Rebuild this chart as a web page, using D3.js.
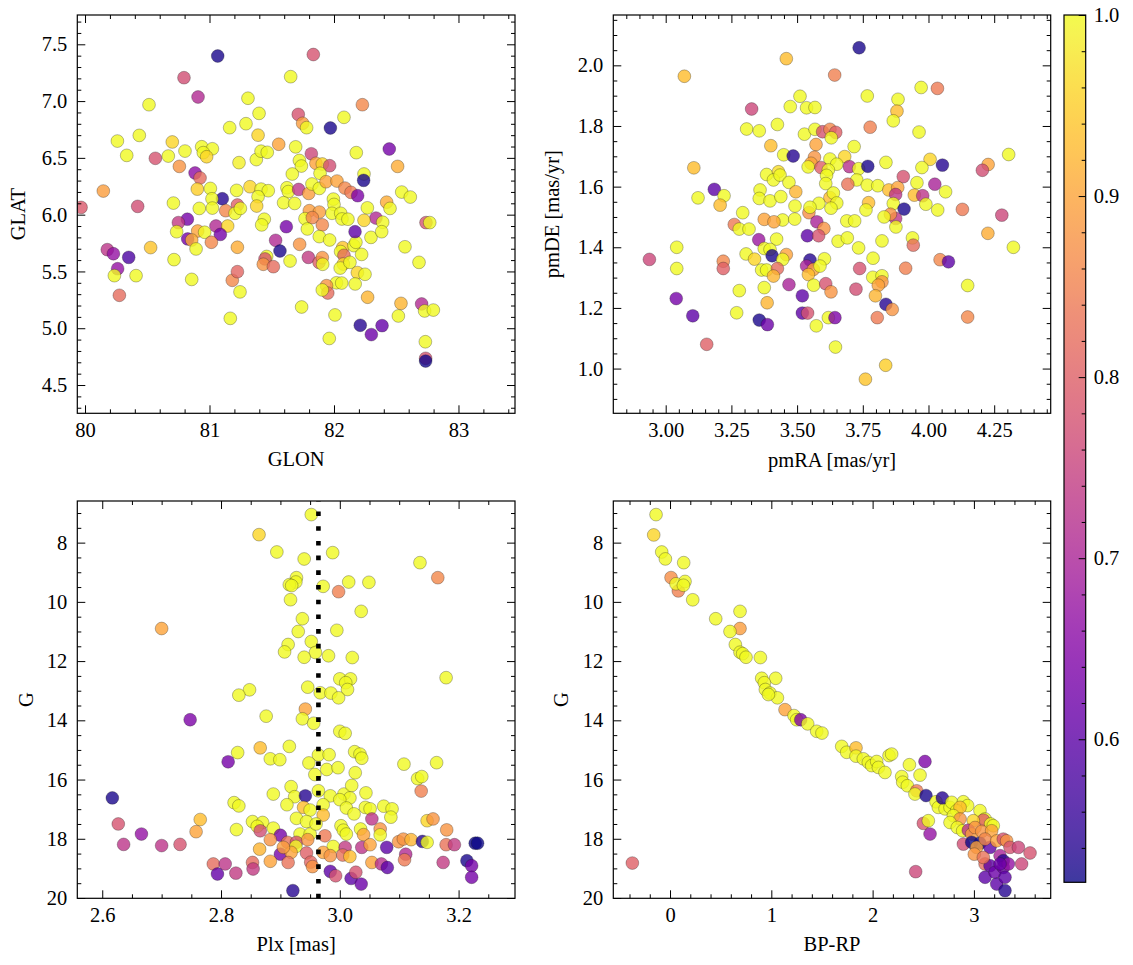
<!DOCTYPE html>
<html><head><meta charset="utf-8">
<script src="https://cdn.jsdelivr.net/npm/d3@7"></script>
<style>body{margin:0;background:#fff}svg{display:block}</style>
</head><body><svg id="c" width="1133" height="965"></svg>
<script>
// ---------------- DATA ----------------
// Panel 1: GLON vs GLAT
const GLON = [81.066,81.834,80.795,81.652,80.908,80.514,81.309,81.398,82.228,81.713,81.748,81.780,81.971,82.080,81.162,81.293,81.39,80.26,80.436,80.335,80.565,80.669,80.701,80.803,80.937,81.023,80.95,80.977,80.758,81.237,81.376,81.414,81.464,81.556,81.692,81.722,81.738,81.818,81.855,81.906,81.965,82.179,82.444,82.511,81.665,81.888,82.241,82.238,80.884,80.924,80.147,80.423,79.968,80.902,81.007,81.103,81.02,80.918,81.023,80.71,81.218,81.325,81.414,81.472,81.39,81.379,81.224,81.13,81.205,81.248,81.622,81.633,81.716,81.797,81.595,81.684,81.823,81.882,81.936,82.024,82.088,82.137,82.19,81.995,82.0,81.984,82.054,82.064,82.112,82.268,82.423,82.45,82.544,82.613,82.337,82.241,82.391,82.739,82.769,81.802,81.882,81.767,81.826,81.906,80.822,80.75,81.052,81.617,81.44,81.419,81.146,
80.736,80.905,80.961,81.087,80.825,80.857,80.892,81.015,81.224,80.179,80.228,80.351,80.262,80.236,80.41,80.527,80.715,80.857,80.276,81.183,81.224,81.245,81.167,81.531,81.566,81.459,81.446,81.432,81.513,81.647,81.724,81.794,81.88,81.906,81.909,81.786,81.882,81.965,82.07,82.053,82.08,82.075,82.05,82.128,82.16,82.176,82.169,82.222,82.188,82.249,82.297,82.383,82.02,82.062,82.17,81.94,81.95,81.906,82.27,81.74,82.008,82.211,82.386,82.3,81.962,82.538,82.517,82.57,82.683,82.704,82.728,82.798,82.734,82.736,82.736];
const GLAT = [7.397,7.41,7.206,7.215,7.036,6.968,7.025,6.892,6.968,6.883,6.804,6.766,6.763,6.857,6.766,6.801,6.70,6.648,6.698,6.522,6.496,6.516,6.64,6.56,6.598,6.58,6.546,6.51,6.425,6.458,6.485,6.559,6.549,6.62,6.597,6.477,6.428,6.536,6.452,6.446,6.431,6.546,6.578,6.425,6.358,6.364,6.358,6.302,6.367,6.323,6.208,6.073,6.064,6.225,6.231,6.14,6.14,6.055,6.058,6.102,6.214,6.246,6.225,6.211,6.158,6.076,6.085,6.035,6.012,6.055,6.237,6.203,6.222,6.187,6.105,6.099,6.27,6.231,6.29,6.296,6.234,6.196,6.167,6.137,6.09,6.012,6.012,5.962,5.96,6.06,6.11,6.055,6.199,6.155,5.97,5.95,5.933,5.93,5.93,6.035,6.023,5.965,5.974,5.91,5.96,5.93,5.90,5.894,5.96,5.91,5.90,
5.85,5.856,5.845,5.826,5.786,5.777,5.698,5.757,5.713,5.692,5.656,5.624,5.524,5.463,5.463,5.71,5.604,5.43,5.29,5.422,5.498,5.32,5.087,5.774,5.68,5.632,5.61,5.563,5.542,5.592,5.739,5.624,5.58,5.622,5.563,5.874,5.807,5.777,5.71,5.675,5.642,5.565,5.53,5.58,5.727,5.757,5.85,5.65,5.49,5.475,5.80,5.85,5.40,5.398,5.39,5.375,5.31,5.337,5.273,5.187,5.117,5.026,5.023,4.944,4.91,5.219,5.108,5.717,5.58,5.214,5.152,5.16,4.881,4.735,4.711];
const PROB_POS = [0.53,0.78,0.77,1.0,0.71,1.0,1.0,1.0,0.86,0.78,0.89,1.0,0.53,1.0,1.0,1.0,0.96,1.0,1.0,1.0,0.78,1.0,0.96,1.0,1.0,1.0,1.0,0.96,0.88,0.99,1.0,1.0,1.0,0.9,1.0,1.0,1.0,0.76,0.9,0.96,0.77,1.0,0.63,0.91,1.0,1.0,1.0,0.53,0.66,0.82,0.89,0.77,0.79,0.95,1.0,0.54,1.0,1.0,1.0,1.0,1.0,0.96,1.0,1.0,1.0,0.96,0.8,0.86,1.0,1.0,1.0,1.0,0.73,0.89,1.0,1.0,1.0,1.0,0.9,0.9,0.86,0.84,0.64,1.0,1.0,1.0,1.0,1.0,1.0,1.0,0.91,1.0,1.0,1.0,0.71,0.96,1.0,0.78,1.0,0.89,0.89,1.0,0.86,0.86,0.63,0.74,0.71,0.63,1.0,1.0,0.96,
1.0,0.9,1.0,0.63,0.63,0.91,1.0,0.86,0.91,0.73,0.67,0.58,0.67,1.0,1.0,0.94,1.0,1.0,0.82,0.86,0.81,1.0,1.0,0.71,0.53,1.0,0.78,0.88,0.82,1.0,0.88,0.74,0.8,0.88,1.0,1.0,1.0,1.0,0.94,1.0,0.82,0.96,1.0,1.0,1.0,1.0,0.6,1.0,0.96,1.0,1.0,1.0,1.0,1.0,1.0,0.88,0.82,1.0,0.92,1.0,1.0,0.54,0.61,0.62,1.0,0.92,1.0,1.0,1.0,0.71,1.0,1.0,1.0,0.78,0.525];

// Panel 2: pmRA vs pmDE
const PMRA = [3.736,3.459,3.071,3.643,3.972,4.034,3.767,3.884,3.88,3.866,3.511,3.474,3.536,3.568,3.327,3.308,3.356,3.425,3.778,3.964,3.528,3.568,3.597,3.625,3.647,3.63,3.572,3.40,3.717,3.449,3.485,3.566,3.553,3.625,3.681,3.651,3.542,3.591,3.619,3.699,3.734,3.769,3.838,4.006,3.975,4.053,4.227,4.205,4.305,3.107,3.384,3.429,3.41,3.435,3.469,3.612,3.609,3.727,3.693,3.767,3.807,3.904,3.956,4.024,4.065,4.129,4.279,3.185,
3.222,3.123,3.207,3.293,3.359,3.356,3.397,3.438,3.495,3.492,3.545,3.583,3.625,3.638,3.651,3.629,3.549,3.445,3.491,3.375,3.412,3.575,
3.261,3.689,3.719,3.772,3.762,3.849,3.883,3.875,3.866,3.907,3.875,3.855,3.831,3.946,3.978,3.99,4.035,
3.28,3.317,3.602,3.876,4.226,3.939,3.942,4.323,3.354,3.422,3.539,3.582,3.656,3.691,3.734,3.823,3.789,3.042,3.042,2.938,3.219,3.219,3.306,3.338,3.375,3.397,3.405,3.459,3.445,3.365,3.384,3.425,3.41,3.549,3.536,3.562,3.543,3.604,3.587,3.563,3.609,3.629,3.469,3.52,3.375,3.28,3.386,3.27,3.04,3.103,3.156,3.356,3.387,3.52,3.54,3.619,3.644,3.573,3.646,3.724,3.738,3.788,3.823,3.823,3.809,3.798,3.838,3.862,3.805,3.913,4.044,4.076,4.149,4.149,3.837,3.76];
const PMDE = [2.058,2.022,1.964,1.968,1.927,1.924,1.899,1.888,1.849,1.817,1.898,1.864,1.86,1.861,1.856,1.79,1.784,1.805,1.796,1.78,1.773,1.789,1.781,1.789,1.779,1.761,1.739,1.735,1.732,1.705,1.701,1.697,1.677,1.691,1.699,1.674,1.665,1.663,1.655,1.666,1.659,1.667,1.68,1.69,1.663,1.671,1.673,1.654,1.706,1.662,1.64,1.649,1.622,1.638,1.614,1.637,1.61,1.622,1.608,1.605,1.603,1.633,1.613,1.608,1.583,1.525,1.506,1.591,
1.57,1.563,1.539,1.514,1.589,1.561,1.553,1.567,1.583,1.536,1.514,1.545,1.564,1.579,1.546,1.529,1.532,1.49,1.493,1.492,1.484,1.484,
1.475,1.487,1.487,1.547,1.523,1.589,1.597,1.574,1.544,1.526,1.495,1.509,1.5,1.572,1.57,1.542,1.523,
1.46,1.46,1.462,1.467,1.446,1.431,1.407,1.4,1.425,1.427,1.438,1.438,1.42,1.431,1.398,1.421,1.364,1.4,1.33,1.36,1.354,1.33,1.378,1.361,1.396,1.393,1.372,1.376,1.36,1.325,1.325,1.33,1.305,1.358,1.338,1.327,1.31,1.362,1.338,1.275,1.28,1.253,1.277,1.24,1.267,1.257,1.217,1.184,1.231,1.174,1.08,1.16,1.145,1.183,1.183,1.168,1.168,1.141,1.071,1.262,1.33,1.301,1.306,1.286,1.275,1.24,1.212,1.195,1.168,1.331,1.359,1.352,1.274,1.17,1.011,0.965];
const PROB_PM = [0.53,0.93,0.93,0.85,1.0,0.84,1.0,1.0,0.93,1.0,1.0,1.0,1.0,1.0,0.76,1.0,1.0,1.0,0.85,1.0,1.0,1.0,0.78,0.86,0.8,1.0,0.9,0.93,1.0,1.0,0.54,0.88,0.9,1.0,0.96,1.0,1.0,0.8,1.0,0.72,1.0,0.53,1.0,0.96,1.0,0.54,0.9,0.77,1.0,0.93,1.0,0.97,1.0,1.0,1.0,1.0,1.0,1.0,0.83,1.0,1.0,0.78,1.0,0.7,1.0,0.84,0.76,0.6,
1.0,1.0,0.93,1.0,1.0,1.0,1.0,1.0,0.92,1.0,0.87,1.0,0.93,1.0,1.0,1.0,1.0,1.0,1.0,0.9,0.9,0.7,
0.84,1.0,1.0,0.93,1.0,0.93,0.9,0.73,1.0,0.53,0.73,0.88,1.0,0.93,0.73,1.0,1.0,
1.0,1.0,0.88,1.0,0.91,1.0,0.82,1.0,0.68,1.0,0.6,0.78,1.0,1.0,1.0,1.0,1.0,1.0,1.0,0.76,0.86,0.8,1.0,0.96,1.0,1.0,0.53,0.9,1.0,1.0,1.0,0.82,0.92,0.54,0.7,0.9,0.93,1.0,1.0,1.0,0.78,0.88,0.7,0.6,1.0,1.0,0.92,1.0,0.63,0.6,0.8,0.53,0.62,0.6,0.78,1.0,0.64,1.0,1.0,0.77,0.78,1.0,1.0,0.88,0.9,0.92,0.54,0.88,0.84,0.85,0.86,0.6,1.0,0.86,0.95,0.94];

// Panel 3: Plx vs G
const PLX = [2.952,2.864,2.894,2.94,2.988,3.135,3.165,2.927,2.926,2.915,2.919,2.972,3.015,3.049,2.998,2.917,3.036,2.937,2.7,2.93,2.995,2.913,2.907,2.952,2.959,2.94,2.981,3.021,3.179,3.0,3.018,3.01,3.013,2.946,2.967,2.985,2.998,2.848,2.83,
2.942,2.937,2.956,2.876,2.748,3.0,3.009,2.915,2.866,2.828,2.883,2.899,2.812,2.964,2.982,2.948,2.958,2.978,2.997,3.025,3.034,3.037,3.026,3.108,3.163,3.131,3.138,3.137,2.617,2.888,2.918,2.924,2.911,2.942,2.964,2.984,3.007,3.02,3.044,3.017,3.0,2.822,2.83,2.939,2.95,2.972,3.011,3.024,3.043,3.051,3.074,3.088,3.086,2.765,2.758,2.826,2.853,2.87,2.861,2.866,2.888,2.927,2.944,2.933,2.95,2.972,2.96,3.002,3.006,3.011,3.035,3.054,3.04,3.068,3.068,3.147,3.157,3.18,2.627,2.666,2.636,2.7,2.731,2.9,2.883,2.912,2.927,2.926,2.946,2.975,2.989,3.009,3.037,3.051,3.079,3.099,3.107,3.12,3.139,3.147,3.179,3.193,3.228,3.232,2.865,2.9,2.918,2.944,2.972,2.984,3.005,3.017,3.111,3.109,2.787,2.807,2.794,2.825,2.853,2.854,2.883,2.913,2.951,2.954,2.984,2.993,3.019,3.027,3.036,3.054,3.07,3.08,3.174,3.214,3.222,3.222,2.921,2.905];
const G_PLX = [7.053,7.73,8.316,8.552,8.338,8.676,9.183,9.183,9.33,9.42,9.45,9.476,9.33,9.34,9.657,9.927,10.32,10.57,10.9,11.0,10.96,11.44,11.69,11.34,11.71,11.87,11.82,11.88,12.56,12.6,12.6,12.73,12.96,12.88,13.07,13.08,13.24,12.97,13.15,
13.62,13.95,14.1,13.86,13.98,14.37,14.44,14.88,14.93,15.09,15.3,15.33,15.4,15.17,15.16,15.44,15.83,15.66,15.6,15.06,15.14,15.28,15.77,15.48,15.43,15.97,15.9,16.39,16.62,16.49,16.24,16.58,16.85,16.55,16.38,16.55,16.49,16.2,16.45,16.62,16.68,16.78,16.89,16.94,17.03,16.85,16.96,17.16,16.94,16.99,16.9,16.99,17.27,17.35,17.76,17.69,17.42,17.45,17.58,17.73,17.64,17.31,17.42,17.84,17.84,17.2,17.5,17.56,17.71,17.84,17.67,17.33,17.86,17.67,17.87,17.39,17.33,17.7,17.5,17.84,18.19,18.23,18.19,17.88,18.03,18.12,18.12,18.26,18.03,17.9,18.26,18.29,18.29,18.2,18.29,18.1,18.01,18.03,18.09,18.12,18.2,18.2,18.15,18.15,18.35,18.52,18.46,18.48,18.46,18.57,18.55,18.6,18.52,18.71,18.85,18.85,19.19,19.16,18.8,19.02,18.76,18.8,18.79,18.94,19.1,19.25,19.34,19.13,19.53,18.8,18.85,18.97,18.8,18.74,18.91,19.3,19.75,18.29];
const PROB_PLX = [1.0,0.96,1.0,1.0,1.0,1.0,0.86,1.0,1.0,1.0,1.0,1.0,1.0,1.0,0.85,1.0,1.0,1.0,0.9,1.0,1.0,1.0,1.0,1.0,1.0,1.0,1.0,1.0,1.0,1.0,1.0,1.0,1.0,1.0,1.0,1.0,1.0,1.0,1.0,
0.9,1.0,1.0,1.0,0.64,1.0,1.0,1.0,0.93,1.0,1.0,1.0,0.63,1.0,1.0,1.0,1.0,1.0,1.0,1.0,1.0,1.0,1.0,1.0,1.0,1.0,1.0,0.85,0.53,1.0,1.0,1.0,1.0,0.54,1.0,1.0,1.0,1.0,1.0,1.0,1.0,1.0,1.0,0.93,1.0,1.0,1.0,1.0,1.0,1.0,1.0,1.0,1.0,0.93,0.9,1.0,1.0,1.0,1.0,0.77,1.0,1.0,1.0,1.0,1.0,0.93,1.0,1.0,1.0,1.0,1.0,0.73,0.9,0.88,1.0,0.96,0.88,0.88,0.78,0.67,0.73,0.73,0.78,0.63,0.88,0.83,0.78,1.0,0.88,0.84,1.0,0.74,0.73,0.9,0.6,0.88,0.88,0.92,0.54,1.0,0.83,0.74,0.522,0.522,0.92,0.63,0.9,0.8,0.9,0.88,0.83,0.93,0.71,0.84,0.82,0.73,0.61,0.74,0.82,0.74,0.9,0.83,0.81,0.88,0.6,0.78,0.6,0.78,0.62,0.9,0.72,0.6,0.74,0.53,0.63,0.63,0.54,0.89];
const PLX_REF = 2.964;

// Panel 4: BP-RP vs G
const BPRP = [-0.138,-0.161,-0.082,-0.046,0.135,0.01,0.082,0.059,0.148,0.132,0.224,0.451,0.691,0.691,0.592,0.645,0.691,0.717,0.75,0.892,0.905,1.043,0.931,0.941,0.987,1.06,0.971,1.135,1.224,1.25,1.29,1.359,1.448,1.5,1.695,1.744,1.836,1.836,1.908,1.958,1.991,2.04,2.057,2.122,2.162,2.188,2.363,2.468,2.517,2.287,2.297,2.343,2.435,2.418,2.527,2.626,2.649,2.715,2.764,2.688,2.781,2.896,2.938,2.83,2.863,2.797,2.863,2.764,2.836,2.889,3.06,3.11,3.093,2.994,3.165,3.191,2.945,2.978,3.011,3.077,3.175,2.896,2.978,3.06,3.027,3.004,3.159,3.11,3.225,3.29,3.323,3.356,3.439,3.554,3.471,3.11,3.159,3.11,3.208,3.225,3.258,3.29,3.29,3.307,3.307,3.34,2.501,2.567,2.55,2.425,-0.372,3.258,3.093];
const G_CMD = [7.053,7.74,8.316,8.55,8.676,9.18,9.63,9.39,9.31,9.44,9.93,10.57,10.32,10.9,11.0,11.44,11.7,11.75,11.87,11.88,12.58,12.58,12.73,12.96,13.08,13.24,13.13,13.64,13.84,13.98,13.98,14.12,14.37,14.43,14.88,15.08,14.93,15.21,15.3,15.42,15.53,15.39,15.59,15.76,15.19,15.14,15.5,15.85,15.39,15.9,16.09,16.21,16.38,16.49,16.54,16.75,16.94,16.99,16.94,16.62,16.77,16.75,16.88,17.05,16.94,17.22,17.33,17.45,17.62,17.73,17.05,17.33,17.37,17.39,17.5,17.56,17.71,17.84,17.62,17.75,17.73,18.18,18.12,18.15,18.29,18.52,18.29,18.01,18.07,18.01,18.07,18.29,18.29,18.48,18.85,18.85,18.91,19.3,19.13,19.53,18.57,18.74,18.97,19.3,19.75,18.85,17.48,17.84,17.39,19.11,18.82,18.85,18.63];
const PROB_CMD = [1.0,0.96,1.0,1.0,1.0,0.87,0.85,1.0,1.0,1.0,1.0,1.0,1.0,0.89,1.0,1.0,1.0,1.0,1.0,1.0,1.0,1.0,1.0,1.0,1.0,1.0,1.0,0.9,1.0,1.0,0.64,1.0,1.0,1.0,1.0,1.0,0.93,1.0,1.0,1.0,1.0,1.0,1.0,1.0,1.0,1.0,1.0,1.0,0.64,1.0,1.0,1.0,0.84,1.0,0.53,1.0,1.0,1.0,1.0,0.54,1.0,1.0,1.0,1.0,0.93,1.0,0.88,1.0,1.0,1.0,1.0,1.0,0.8,0.96,1.0,1.0,0.72,0.89,0.88,0.88,0.9,0.77,0.522,0.522,0.9,0.88,0.6,0.86,0.9,0.78,0.88,0.78,0.76,0.78,0.76,0.82,0.6,0.6,0.62,0.6,0.7,0.54,0.62,0.6,0.54,0.67,0.78,0.67,1.0,0.76,0.8,0.62,0.83];

// Tick values
const GLON_TICKS = [80, 81, 82, 83];
const GLAT_TICKS = [4.5, 5.0, 5.5, 6.0, 6.5, 7.0, 7.5];
const PMRA_TICKS = [3.00, 3.25, 3.50, 3.75, 4.00, 4.25];
const PMDE_TICKS = [1.0, 1.2, 1.4, 1.6, 1.8, 2.0];
const PLX_TICKS = [2.6, 2.8, 3.0, 3.2];
const G_TICKS = [8, 10, 12, 14, 16, 18, 20];
const BPRP_TICKS = [0, 1, 2, 3];
const PROB_TICKS = [0.6, 0.7, 0.8, 0.9, 1.0];
const PROB_RANGE = [0.521, 1.0];

// ---------------- DRAWING ----------------
const FONT = "'Liberation Serif','DejaVu Serif',serif";
const FS = 20.5;
const svg = d3.select("#c");
const color = d3.scaleSequential(d3.interpolatePlasma).domain(PROB_RANGE);

function minors(domain, step, majors) {
  const lo = Math.min(domain[0], domain[1]), hi = Math.max(domain[0], domain[1]);
  const out = [];
  for (let k = Math.ceil(lo / step - 1e-9); k * step <= hi + 1e-9; k++) {
    const v = +(k * step).toFixed(6);
    if (!majors.some(m => Math.abs(m - v) < step / 10)) out.push(v);
  }
  return out;
}

function axisSet(g, axisFn, scale, vals, size, fmt, tr, pad) {
  const a = axisFn(scale).tickValues(vals).tickSizeInner(size).tickSizeOuter(0).tickPadding(pad || 8)
    .tickFormat(fmt ? fmt : () => "");
  const ga = g.append("g").attr("transform", tr).call(a);
  ga.select(".domain").remove();
  ga.attr("font-family", FONT).attr("font-size", FS);
  ga.selectAll("line").attr("stroke", "#000").attr("stroke-width", 1);
  ga.selectAll("text").attr("fill", "#000");
  return ga;
}

function panel(cfg) {
  const { l, r, t, b } = cfg.box;
  const x = d3.scaleLinear().domain(cfg.xDomain).range([l, r]);
  const y = d3.scaleLinear().domain(cfg.yDomain).range([b, t]);
  const g = svg.append("g");
  const cid = "clip" + cfg.id;
  svg.append("clipPath").attr("id", cid).append("rect")
    .attr("x", l).attr("y", t).attr("width", r - l).attr("height", b - t);
  const pts = cfg.xs.map((v, i) => ({ x: v, y: cfg.ys[i], p: cfg.ps[i] }));
  g.append("g").attr("clip-path", `url(#${cid})`).selectAll("circle").data(pts).join("circle")
    .attr("cx", d => x(d.x)).attr("cy", d => y(d.y)).attr("r", 6.4)
    .attr("fill", d => color(d.p)).attr("fill-opacity", 0.8)
    .attr("stroke", "#1a1a1a").attr("stroke-opacity", 0.5).attr("stroke-width", 0.6);
  if (cfg.vline !== undefined) {
    g.append("line").attr("x1", x(cfg.vline)).attr("x2", x(cfg.vline))
      .attr("y1", b).attr("y2", t).attr("stroke", "#000").attr("stroke-width", 4.6)
      .attr("stroke-dasharray", "4.6 10.1");
  }
  const xMin = minors(cfg.xDomain, cfg.xMinor, cfg.xTicks);
  const yMin = minors(cfg.yDomain, cfg.yMinor, cfg.yTicks);
  axisSet(g, d3.axisBottom, x, cfg.xTicks, -8, cfg.xFmt, `translate(0,${b})`, 9);
  axisSet(g, d3.axisBottom, x, xMin, -4, null, `translate(0,${b})`);
  axisSet(g, d3.axisTop, x, cfg.xTicks, -8, null, `translate(0,${t})`);
  axisSet(g, d3.axisTop, x, xMin, -4, null, `translate(0,${t})`);
  axisSet(g, d3.axisLeft, y, cfg.yTicks, -8, cfg.yFmt, `translate(${l},0)`, 10);
  axisSet(g, d3.axisLeft, y, yMin, -4, null, `translate(${l},0)`);
  axisSet(g, d3.axisRight, y, cfg.yTicks, -8, null, `translate(${r},0)`);
  axisSet(g, d3.axisRight, y, yMin, -4, null, `translate(${r},0)`);
  g.append("rect").attr("x", l).attr("y", t).attr("width", r - l).attr("height", b - t)
    .attr("fill", "none").attr("stroke", "#000").attr("stroke-width", 1.2);
  g.append("text").attr("x", (l + r) / 2).attr("y", cfg.xlabY).attr("text-anchor", "middle")
    .attr("font-family", FONT).attr("font-size", FS).text(cfg.xlabel);
  g.append("text").attr("transform", `translate(${cfg.ylabX},${(t + b) / 2}) rotate(-90)`)
    .attr("text-anchor", "middle").attr("font-family", FONT).attr("font-size", FS).text(cfg.ylabel);
}

panel({ id: 1, box: { l: 77.3, r: 515, t: 15, b: 413.3 }, xDomain: [79.938, 83.454], yDomain: [4.251, 7.758],
  xs: GLON, ys: GLAT, ps: PROB_POS, xTicks: GLON_TICKS, yTicks: GLAT_TICKS, xMinor: 0.2, yMinor: 0.1,
  xFmt: d3.format("d"), yFmt: d3.format(".1f"), xlabel: "GLON", ylabel: "GLAT", xlabY: 466, ylabX: 25 });
panel({ id: 2, box: { l: 613.3, r: 1050.7, t: 15, b: 413.3 }, xDomain: [2.8006, 4.465], yDomain: [0.8525, 2.166],
  xs: PMRA, ys: PMDE, ps: PROB_PM, xTicks: PMRA_TICKS, yTicks: PMDE_TICKS, xMinor: 0.05, yMinor: 0.05,
  xFmt: d3.format(".2f"), yFmt: d3.format(".1f"), xlabel: "pmRA [mas/yr]", ylabel: "pmDE [mas/yr]", xlabY: 467, ylabX: 559 });
panel({ id: 3, box: { l: 77.3, r: 515, t: 501, b: 898.3 }, xDomain: [2.558, 3.295], yDomain: [20.01, 6.594],
  xs: PLX, ys: G_PLX, ps: PROB_PLX, xTicks: PLX_TICKS, yTicks: G_TICKS, xMinor: 0.05, yMinor: 0.5,
  xFmt: d3.format(".1f"), yFmt: d3.format("d"), xlabel: "Plx [mas]", ylabel: "G", xlabY: 951, ylabX: 33, vline: PLX_REF });
panel({ id: 4, box: { l: 613.3, r: 1050.7, t: 501, b: 898.3 }, xDomain: [-0.56, 3.758], yDomain: [20.01, 6.594],
  xs: BPRP, ys: G_CMD, ps: PROB_CMD, xTicks: BPRP_TICKS, yTicks: G_TICKS, xMinor: 0.2, yMinor: 0.5,
  xFmt: d3.format("d"), yFmt: d3.format("d"), xlabel: "BP-RP", ylabel: "G", xlabY: 951, ylabX: 568 });

// Colorbar
(function () {
  const cb = { l: 1064, r: 1085.7, t: 15, b: 882.3 };
  const s = d3.scaleLinear().domain(PROB_RANGE).range([cb.b, cb.t]);
  const defs = svg.append("defs");
  const grad = defs.append("linearGradient").attr("id", "cbg").attr("x1", 0).attr("x2", 0).attr("y1", 1).attr("y2", 0);
  d3.range(0, 1.0001, 0.02).forEach(f => grad.append("stop").attr("offset", f).attr("stop-color", d3.interpolatePlasma(f)));
  const g = svg.append("g");
  g.append("rect").attr("x", cb.l).attr("y", cb.t).attr("width", cb.r - cb.l).attr("height", cb.b - cb.t)
    .attr("fill", "url(#cbg)").attr("fill-opacity", 0.8);
  axisSet(g, d3.axisRight, s, PROB_TICKS, -7, d3.format(".1f"), `translate(${cb.r},0)`, 8);
  axisSet(g, d3.axisRight, s, minors(PROB_RANGE, 0.02, PROB_TICKS), -4, null, `translate(${cb.r},0)`);
  g.append("rect").attr("x", cb.l).attr("y", cb.t).attr("width", cb.r - cb.l).attr("height", cb.b - cb.t)
    .attr("fill", "none").attr("stroke", "#000").attr("stroke-width", 1.2);
})();
</script></body></html>
